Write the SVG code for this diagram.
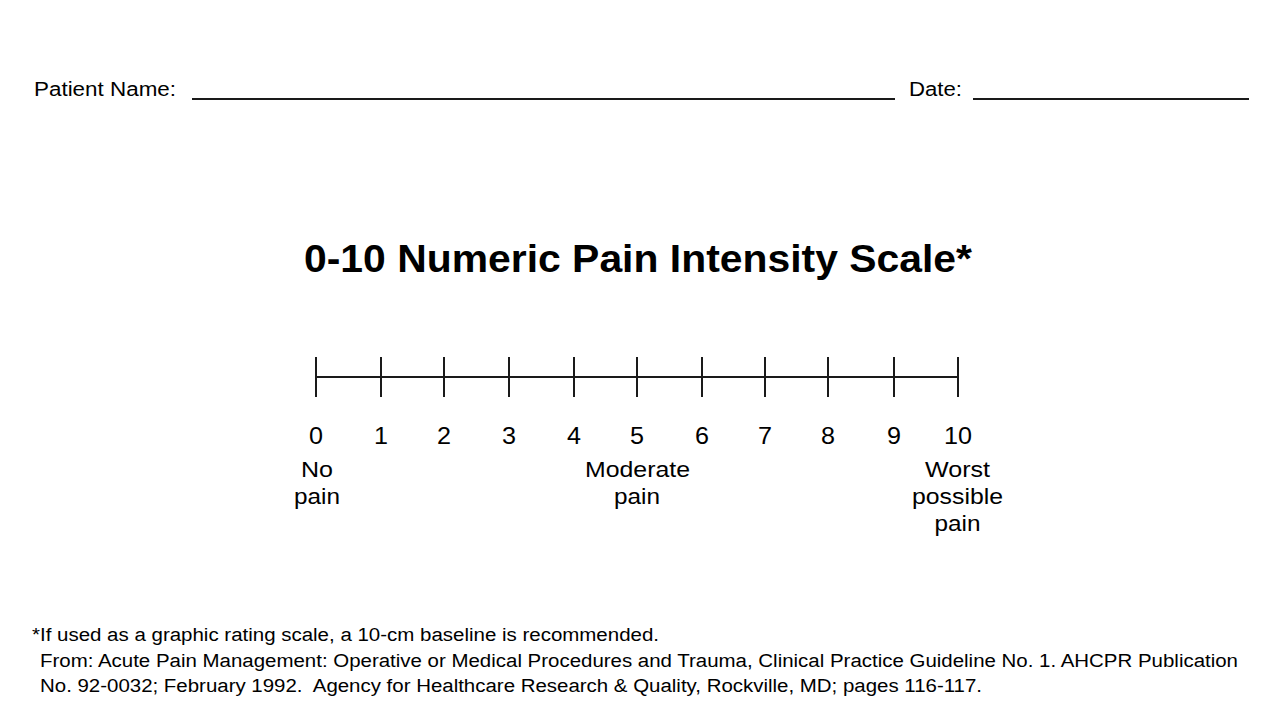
<svg xmlns="http://www.w3.org/2000/svg" width="1280" height="720" viewBox="0 0 1280 720">
<style>
text{font-family:"Liberation Sans",Arial,sans-serif;fill:#000}
.hdr{font-size:19.5px}
.num{font-size:24px;text-anchor:middle}
.lbl{font-size:22px;text-anchor:middle}
.foot{font-size:18px}
.ttl{font-size:39px;font-weight:bold;text-anchor:middle}
.ln{stroke:#1a1a1a;stroke-width:2;fill:none}
</style>
<rect width="1280" height="720" fill="#fff"/>
<g id="header">
<text class="hdr" x="34" y="96" textLength="142" lengthAdjust="spacingAndGlyphs">Patient Name:</text>
<line class="ln" x1="192" y1="99" x2="895" y2="99"/>
<text class="hdr" x="909" y="96" textLength="53" lengthAdjust="spacingAndGlyphs">Date:</text>
<line class="ln" x1="973" y1="99" x2="1249" y2="99"/>
</g>
<g id="title">
<text class="ttl" x="638" y="272" textLength="668" lengthAdjust="spacingAndGlyphs">0-10 Numeric Pain Intensity Scale*</text>
</g>
<g id="scale">
<line class="ln" x1="316" y1="377" x2="958" y2="377"/>
<line class="ln" x1="316" y1="357" x2="316" y2="397"/>
<line class="ln" x1="381" y1="357" x2="381" y2="397"/>
<line class="ln" x1="444" y1="357" x2="444" y2="397"/>
<line class="ln" x1="509" y1="357" x2="509" y2="397"/>
<line class="ln" x1="574" y1="357" x2="574" y2="397"/>
<line class="ln" x1="637" y1="357" x2="637" y2="397"/>
<line class="ln" x1="702" y1="357" x2="702" y2="397"/>
<line class="ln" x1="765" y1="357" x2="765" y2="397"/>
<line class="ln" x1="828" y1="357" x2="828" y2="397"/>
<line class="ln" x1="894" y1="357" x2="894" y2="397"/>
<line class="ln" x1="958" y1="357" x2="958" y2="397"/>
</g>
<g id="numbers">
<text class="num" x="316" y="444" textLength="14" lengthAdjust="spacingAndGlyphs">0</text>
<text class="num" x="381" y="444" textLength="14" lengthAdjust="spacingAndGlyphs">1</text>
<text class="num" x="444" y="444" textLength="14" lengthAdjust="spacingAndGlyphs">2</text>
<text class="num" x="509" y="444" textLength="14" lengthAdjust="spacingAndGlyphs">3</text>
<text class="num" x="574" y="444" textLength="14" lengthAdjust="spacingAndGlyphs">4</text>
<text class="num" x="637" y="444" textLength="14" lengthAdjust="spacingAndGlyphs">5</text>
<text class="num" x="702" y="444" textLength="14" lengthAdjust="spacingAndGlyphs">6</text>
<text class="num" x="765" y="444" textLength="14" lengthAdjust="spacingAndGlyphs">7</text>
<text class="num" x="828" y="444" textLength="14" lengthAdjust="spacingAndGlyphs">8</text>
<text class="num" x="894" y="444" textLength="14" lengthAdjust="spacingAndGlyphs">9</text>
<text class="num" x="958" y="444" textLength="28" lengthAdjust="spacingAndGlyphs">10</text>
</g>
<g id="label-none">
<text class="lbl" x="317" y="477" textLength="32" lengthAdjust="spacingAndGlyphs">No</text>
<text class="lbl" x="317" y="504" textLength="46" lengthAdjust="spacingAndGlyphs">pain</text>
</g>
<g id="label-moderate">
<text class="lbl" x="637.5" y="477" textLength="105" lengthAdjust="spacingAndGlyphs">Moderate</text>
<text class="lbl" x="637" y="504" textLength="46" lengthAdjust="spacingAndGlyphs">pain</text>
</g>
<g id="label-worst">
<text class="lbl" x="957.5" y="477" textLength="65" lengthAdjust="spacingAndGlyphs">Worst</text>
<text class="lbl" x="957.5" y="504" textLength="91" lengthAdjust="spacingAndGlyphs">possible</text>
<text class="lbl" x="957.5" y="531" textLength="46" lengthAdjust="spacingAndGlyphs">pain</text>
</g>
<g id="footer">
<text class="foot" x="32" y="641" textLength="627" lengthAdjust="spacingAndGlyphs">*If used as a graphic rating scale, a 10-cm baseline is recommended.</text>
<text class="foot" x="40" y="667" textLength="1198" lengthAdjust="spacingAndGlyphs">From: Acute Pain Management: Operative or Medical Procedures and Trauma, Clinical Practice Guideline No. 1. AHCPR Publication</text>
<text class="foot" x="40" y="692" xml:space="preserve" textLength="942" lengthAdjust="spacingAndGlyphs">No. 92-0032; February 1992.  Agency for Healthcare Research &amp; Quality, Rockville, MD; pages 116-117.</text>
</g>
</svg>
